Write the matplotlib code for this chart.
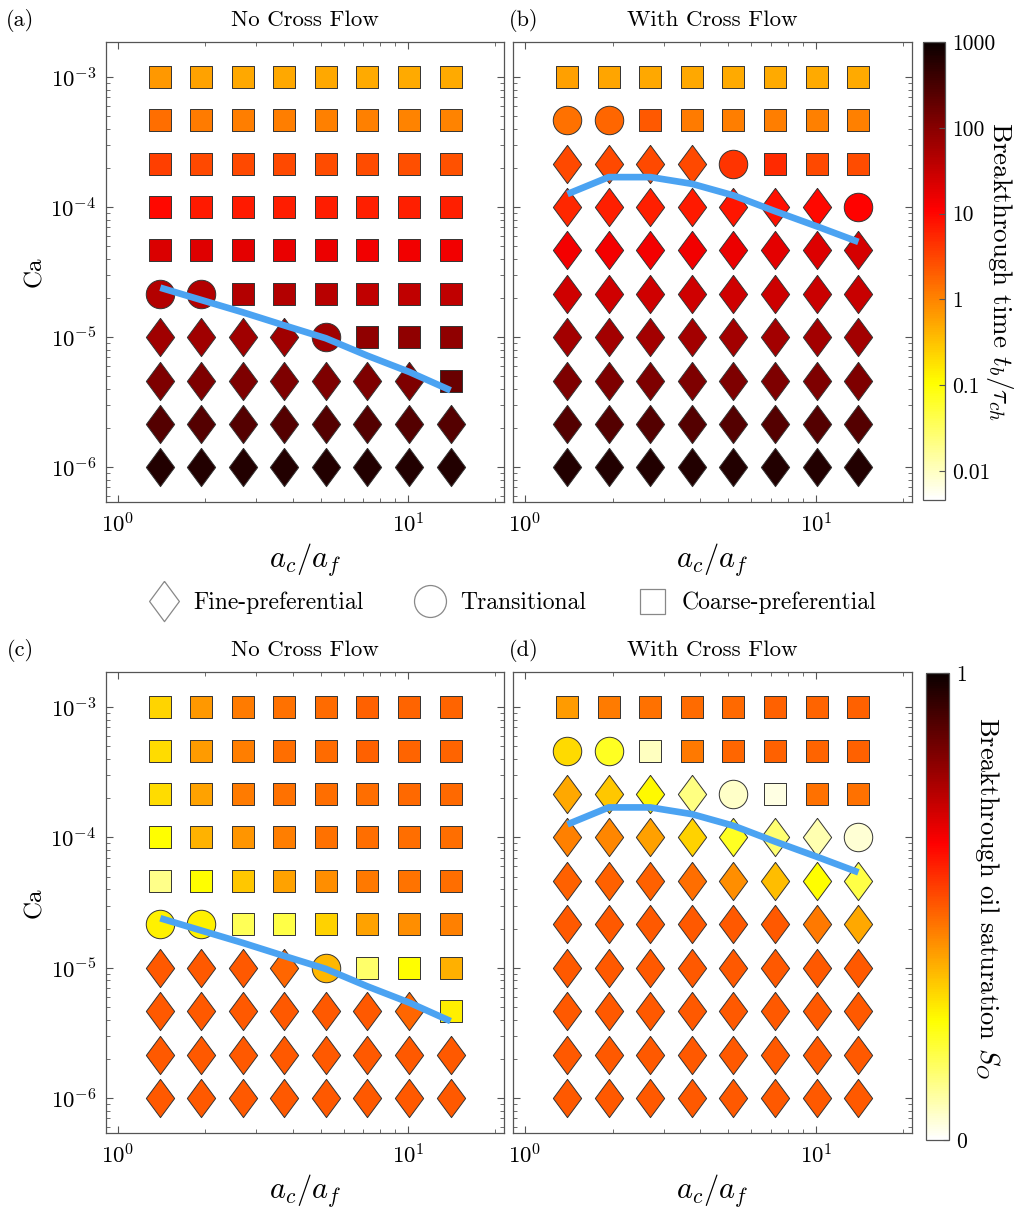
import numpy as np
import matplotlib
matplotlib.use('Agg')
import matplotlib.pyplot as plt
from matplotlib.colors import LogNorm, Normalize
from matplotlib.cm import ScalarMappable
from matplotlib.lines import Line2D
import matplotlib.ticker as mticker

plt.rcParams['font.family'] = ['cmr10', 'DejaVu Serif']
plt.rcParams['mathtext.fontset'] = 'cm'
plt.rcParams['axes.formatter.use_mathtext'] = True
plt.rcParams['axes.unicode_minus'] = False

# ---------------- data ----------------
size_ratio = [1.4, 1.94, 2.7, 3.75, 5.21, 7.24, 10.1, 14.0]          # a_c/a_f
capillary = [1e-3, 4.64e-4, 2.15e-4, 1e-4, 4.64e-5, 2.15e-5, 1e-5,
             4.64e-6, 2.15e-6, 1e-6]                                   # Ca (rows, top->bottom)

# regime codes: F = fine-preferential, T = transitional, C = coarse-preferential
regime_no_cf = ["CCCCCCCC", "CCCCCCCC", "CCCCCCCC", "CCCCCCCC", "CCCCCCCC",
                "TTCCCCCC", "FFFFTCCC", "FFFFFFFC", "FFFFFFFF", "FFFFFFFF"]
regime_cf = ["CCCCCCCC", "TTCCCCCC", "FFFFTCCC", "FFFFFFFT", "FFFFFFFF",
             "FFFFFFFF", "FFFFFFFF", "FFFFFFFF", "FFFFFFFF", "FFFFFFFF"]

# breakthrough time t_b / tau_ch
tb_no_cf = [
    [0.68, 0.56, 0.53, 0.52, 0.51, 0.5, 0.5, 0.5],
    [1.5, 1.2, 1.12, 1.1, 1.06, 1.05, 1.02, 1.0],
    [3.5, 3.0, 2.9, 2.9, 2.8, 2.8, 2.6, 2.5],
    [9.5, 7.0, 6.8, 6.5, 6.5, 6.4, 6.3, 6.2],
    [22, 20, 18, 16.5, 16, 14.5, 14, 14],
    [45, 45, 46, 45, 42, 36, 35, 35],
    [62, 62, 62, 62, 62, 85, 85, 85],
    [120, 120, 120, 120, 120, 120, 120, 170],
    [250, 250, 250, 250, 250, 250, 250, 250],
    [620, 620, 620, 620, 620, 620, 620, 620],
]
tb_cf = [
    [0.6, 0.55, 0.53, 0.52, 0.5, 0.5, 0.5, 0.5],
    [1.4, 1.75, 2.2, 1.2, 1.1, 1.1, 1.05, 1.05],
    [2.9, 2.9, 2.9, 2.9, 4.4, 5.2, 3.0, 2.8],
    [5.4, 6.2, 6.4, 6.8, 7.8, 8.5, 9.5, 10.5],
    [13.5, 13.5, 13.5, 14, 16, 18, 21, 24],
    [27, 27, 27, 27, 27, 28, 29, 31],
    [60, 60, 60, 60, 60, 60, 60, 60],
    [120, 120, 120, 120, 120, 120, 120, 120],
    [255, 255, 255, 255, 255, 255, 255, 255],
    [620, 620, 620, 620, 620, 620, 620, 620],
]
# breakthrough oil saturation S_O
so_no_cf = [
    [0.32, 0.41, 0.45, 0.467, 0.475, 0.49, 0.486, 0.486],
    [0.307, 0.403, 0.448, 0.471, 0.475, 0.49, 0.486, 0.486],
    [0.307, 0.391, 0.45, 0.467, 0.472, 0.472, 0.48, 0.48],
    [0.254, 0.368, 0.414, 0.448, 0.467, 0.472, 0.472, 0.472],
    [0.119, 0.254, 0.338, 0.391, 0.425, 0.456, 0.462, 0.472],
    [0.277, 0.277, 0.17, 0.185, 0.322, 0.391, 0.425, 0.444],
    [0.502, 0.502, 0.502, 0.483, 0.361, 0.152, 0.254, 0.372],
    [0.5, 0.5, 0.5, 0.5, 0.5, 0.5, 0.483, 0.28],
    [0.5, 0.5, 0.5, 0.5, 0.5, 0.5, 0.5, 0.5],
    [0.5, 0.5, 0.5, 0.5, 0.5, 0.5, 0.5, 0.5],
]
so_cf = [
    [0.406, 0.45, 0.467, 0.475, 0.478, 0.49, 0.486, 0.49],
    [0.311, 0.221, 0.063, 0.456, 0.483, 0.49, 0.486, 0.49],
    [0.384, 0.338, 0.265, 0.127, 0.056, 0.03, 0.467, 0.467],
    [0.444, 0.435, 0.395, 0.323, 0.222, 0.142, 0.079, 0.046],
    [0.49, 0.49, 0.49, 0.472, 0.425, 0.353, 0.254, 0.185],
    [0.5, 0.5, 0.5, 0.5, 0.5, 0.5, 0.456, 0.384],
    [0.5, 0.5, 0.5, 0.5, 0.5, 0.5, 0.5, 0.5],
    [0.5, 0.5, 0.5, 0.5, 0.5, 0.5, 0.5, 0.5],
    [0.5, 0.5, 0.5, 0.5, 0.5, 0.5, 0.5, 0.5],
    [0.5, 0.5, 0.5, 0.5, 0.5, 0.5, 0.5, 0.5],
]
# regime boundary curves (Ca read at each a_c/a_f column)
boundary_no_cf = [2.4e-5, 1.93e-5, 1.55e-5, 1.23e-5, 9.8e-6, 7.2e-6, 5.4e-6, 3.9e-6]
boundary_cf = [1.26e-4, 1.7e-4, 1.7e-4, 1.51e-4, 1.23e-4, 9.3e-5, 7.1e-5, 5.4e-5]

legend_labels = ['Fine-preferential', 'Transitional', 'Coarse-preferential']

# ---------------- style ----------------
W, H = 1025, 1209
fig = plt.figure(figsize=(W / 100, H / 100), dpi=100)
cmap = plt.get_cmap('hot_r')
norm_t = LogNorm(vmin=0.0046, vmax=1000)
norm_s = Normalize(vmin=0, vmax=1)
diamond = [(0, 1), (0.74, 0), (0, -1), (-0.74, 0), (0, 1)]
marker_of = {'F': diamond, 'T': 'o', 'C': 's'}
size_of = {'F': 760, 'T': 420, 'C': 265}
spine_col = '#555555'
line_col = '#4BA3F2'


def px_axes(l, r, t, b):
    return [l / W, 1 - b / H, (r - l) / W, (b - t) / H]


def draw_panel(rect, regime, values, norm, boundary, letter, title, left_panel):
    ax = fig.add_axes(px_axes(*rect))
    for i, ca in enumerate(capillary):
        for j, xr in enumerate(size_ratio):
            code = regime[i][j]
            ax.scatter([xr], [ca], marker=marker_of[code], s=size_of[code],
                       c=[values[i][j]], cmap=cmap, norm=norm,
                       edgecolors='#333333', linewidths=0.7, zorder=2)
    ax.plot(size_ratio, boundary, color=line_col, lw=4.8, zorder=3,
            solid_capstyle='butt', solid_joinstyle='round')
    ax.set_xscale('log')
    ax.set_yscale('log')
    ax.set_xlim(0.91, 21.4)
    ax.set_ylim(5.4e-7, 1.86e-3)
    ax.set_xticks([1, 10])
    ax.set_yticks([1e-6, 1e-5, 1e-4, 1e-3])
    ax.xaxis.set_minor_locator(mticker.LogLocator(base=10, subs=np.arange(2, 10)))
    ax.yaxis.set_minor_locator(mticker.LogLocator(base=10, subs=np.arange(2, 10)))
    ax.xaxis.set_minor_formatter(mticker.NullFormatter())
    ax.yaxis.set_minor_formatter(mticker.NullFormatter())
    ax.tick_params(which='both', direction='in', top=True, right=True,
                   color=spine_col, labelsize=16.5, labelleft=left_panel)
    ax.tick_params(which='major', length=5, width=0.8, pad=7)
    ax.tick_params(which='minor', length=3, width=0.6)
    for sp in ax.spines.values():
        sp.set_color(spine_col)
        sp.set_linewidth(0.9)
    ax.set_xlabel(r'$a_c/a_f$', fontsize=22)
    ax.xaxis.set_label_coords(0.5, -0.085)
    if left_panel:
        ax.set_ylabel('Ca', fontsize=18)
        ax.yaxis.set_label_coords(-0.15, 0.5)
    l, r, t, b = rect
    lx = 20 if left_panel else l + 11
    fig.text(lx / W, 1 - (t - 22) / H, letter, fontsize=16, ha='center', va='center')
    fig.text((l + r) / 2 / W, 1 - (t - 22) / H, title, fontsize=16.5, ha='center', va='center')
    return ax


draw_panel((106, 504, 42, 502), regime_no_cf, tb_no_cf, norm_t, boundary_no_cf, '(a)', 'No Cross Flow', True)
draw_panel((513, 912, 42, 502), regime_cf, tb_cf, norm_t, boundary_cf, '(b)', 'With Cross Flow', False)
draw_panel((106, 504, 672, 1133), regime_no_cf, so_no_cf, norm_s, boundary_no_cf, '(c)', 'No Cross Flow', True)
draw_panel((513, 912, 672, 1133), regime_cf, so_cf, norm_s, boundary_cf, '(d)', 'With Cross Flow', False)

# colorbars
cax1 = fig.add_axes(px_axes(923, 945, 42, 500))
cb1 = fig.colorbar(ScalarMappable(norm=norm_t, cmap=cmap), cax=cax1)
cb1.set_ticks([0.01, 0.1, 1, 10, 100, 1000])
cb1.set_ticklabels(['0.01', '0.1', '1', '10', '100', '1000'])
cax1.minorticks_off()
cax1.tick_params(direction='in', length=4, color=spine_col, labelsize=15.5, pad=5)
cb1.outline.set_edgecolor(spine_col)
cb1.outline.set_linewidth(0.9)
fig.text(1000 / W, 1 - 272 / H, r'Breakthrough time $t_b/\tau_{ch}$', rotation=-90,
         fontsize=19.5, ha='center', va='center')

cax2 = fig.add_axes(px_axes(926, 949, 673, 1140))
cb2 = fig.colorbar(ScalarMappable(norm=norm_s, cmap=cmap), cax=cax2)
cb2.set_ticks([0, 1])
cb2.set_ticklabels(['0', '1'])
cax2.minorticks_off()
cax2.tick_params(direction='in', length=4, color=spine_col, labelsize=15.5, pad=5)
cb2.outline.set_edgecolor(spine_col)
cb2.outline.set_linewidth(0.9)
fig.text(987 / W, 1 - 898 / H, r'Breakthrough oil saturation $S_O$', rotation=-90,
         fontsize=19, ha='center', va='center')

# legend
handles = [
    Line2D([], [], ls='none', marker=diamond, ms=29, mfc='white', mec='#888888', mew=0.9),
    Line2D([], [], ls='none', marker='o', ms=23, mfc='white', mec='#888888', mew=0.9),
    Line2D([], [], ls='none', marker='s', ms=18, mfc='white', mec='#888888', mew=0.9),
]
fig.legend(handles, legend_labels,
           loc='center', bbox_to_anchor=(513 / W, 1 - 603 / H), ncol=3, frameon=False,
           fontsize=17, handletextpad=0.67, columnspacing=2.2, handlelength=1.2)

fig.savefig('out.png', dpi=100)
